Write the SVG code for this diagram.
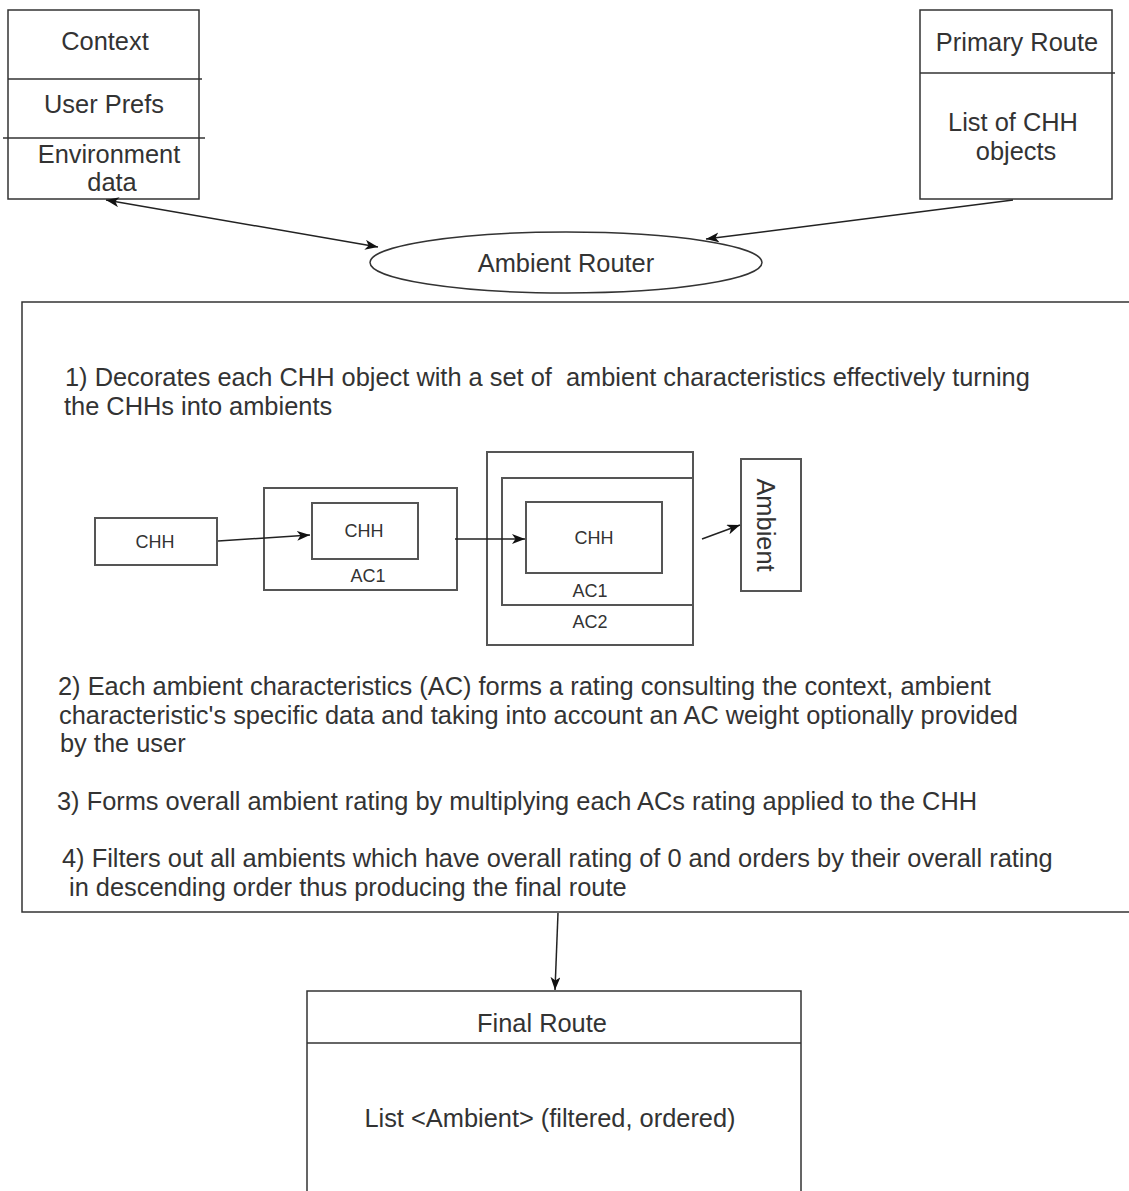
<svg xmlns="http://www.w3.org/2000/svg" width="1129" height="1191" viewBox="0 0 1129 1191">
<style>
text{font-family:"Liberation Sans",Arial,sans-serif;fill:#333;}
.big{font-size:25.4px;}
.mid{text-anchor:middle;}
.sm{font-size:18px;text-anchor:middle;}
.box{fill:#fff;stroke:#333;stroke-width:1.5;}
.ln{fill:none;stroke:#333;stroke-width:1.5;}
.sbox{fill:#fff;stroke:#555;stroke-width:2;}
.edge{fill:none;stroke:#222;stroke-width:1.5;}
</style>
<defs>
<marker id="arr" markerUnits="userSpaceOnUse" markerWidth="14" markerHeight="12" refX="13" refY="5" orient="auto-start-reverse">
<path d="M0,0 L13,5 L0,10 L3.5,5 Z" fill="#111"/>
</marker>
</defs>
<rect width="1129" height="1191" fill="#fff"/>

<g id="context">
<rect class="box" x="8" y="10" width="191" height="189"/>
<line class="ln" x1="8" y1="79" x2="202" y2="79"/>
<line class="ln" x1="3" y1="138" x2="205" y2="138"/>
<text class="big mid" x="105" y="50">Context</text>
<text class="big mid" x="104" y="113">User Prefs</text>
<text class="big mid" x="109" y="163">Environment</text>
<text class="big mid" x="112" y="191">data</text>
</g>

<g id="primary-route">
<rect class="box" x="920" y="10" width="192" height="189"/>
<line class="ln" x1="920" y1="73" x2="1115" y2="73"/>
<text class="big mid" x="1017" y="51">Primary Route</text>
<text class="big mid" x="1013" y="131">List of CHH</text>
<text class="big mid" x="1016" y="160">objects</text>
</g>

<g id="ambient-router">
<ellipse class="box" cx="566" cy="262.5" rx="196" ry="30.5"/>
<text class="big mid" x="566" y="272">Ambient Router</text>
</g>

<g id="process">
<rect class="box" x="22" y="302" width="1120" height="610"/>
<text class="big" x="65" y="386" xml:space="preserve">1) Decorates each CHH object with a set of  ambient characteristics effectively turning</text>
<text class="big" x="64" y="415">the CHHs into ambients</text>
<text class="big" x="58" y="695">2) Each ambient characteristics (AC) forms a rating consulting the context, ambient</text>
<text class="big" x="59" y="724">characteristic's specific data and taking into account an AC weight optionally provided</text>
<text class="big" x="60" y="752">by the user</text>
<text class="big" x="57" y="810">3) Forms overall ambient rating by multiplying each ACs rating applied to the CHH</text>
<text class="big" x="62" y="867">4) Filters out all ambients which have overall rating of 0 and orders by their overall rating</text>
<text class="big" x="62" y="896" xml:space="preserve"> in descending order thus producing the final route</text>
</g>

<g id="chh">
<rect class="sbox" x="95" y="518" width="122" height="47"/>
<text class="sm" x="155" y="548">CHH</text>
</g>

<g id="ac1-chh">
<rect class="sbox" x="264" y="488" width="193" height="102"/>
<rect class="sbox" x="312" y="503" width="106" height="56"/>
<text class="sm" x="364" y="537">CHH</text>
<text class="sm" x="368" y="582">AC1</text>
</g>

<g id="ac2-ac1-chh">
<rect class="sbox" x="487" y="452" width="206" height="193"/>
<rect class="sbox" x="502" y="478" width="191" height="127"/>
<rect class="sbox" x="526" y="502" width="136" height="71"/>
<text class="sm" x="594" y="544">CHH</text>
<text class="sm" x="590" y="597">AC1</text>
<text class="sm" x="590" y="628">AC2</text>
</g>

<g id="ambient">
<rect class="sbox" x="741" y="459" width="60" height="132"/>
<text class="big mid" transform="translate(766,525) rotate(90)" x="0" y="9">Ambient</text>
</g>

<g id="final-route">
<rect class="box" x="307" y="991" width="494" height="220"/>
<line class="ln" x1="307" y1="1043" x2="801" y2="1043"/>
<text class="big mid" x="542" y="1032">Final Route</text>
<text class="big mid" x="550" y="1127">List &lt;Ambient&gt; (filtered, ordered)</text>
</g>

<g id="connectors">
<line class="edge" x1="106" y1="200" x2="378" y2="247" marker-start="url(#arr)" marker-end="url(#arr)"/>
<line class="edge" x1="1013" y1="200" x2="706" y2="239" marker-end="url(#arr)"/>
<line class="edge" x1="218" y1="541" x2="310" y2="535" marker-end="url(#arr)"/>
<line class="edge" x1="455" y1="539" x2="525" y2="539" marker-end="url(#arr)"/>
<line class="edge" x1="702" y1="539" x2="740" y2="525" marker-end="url(#arr)"/>
<line class="edge" x1="558" y1="913" x2="555" y2="990" marker-end="url(#arr)"/>
</g>
</svg>
